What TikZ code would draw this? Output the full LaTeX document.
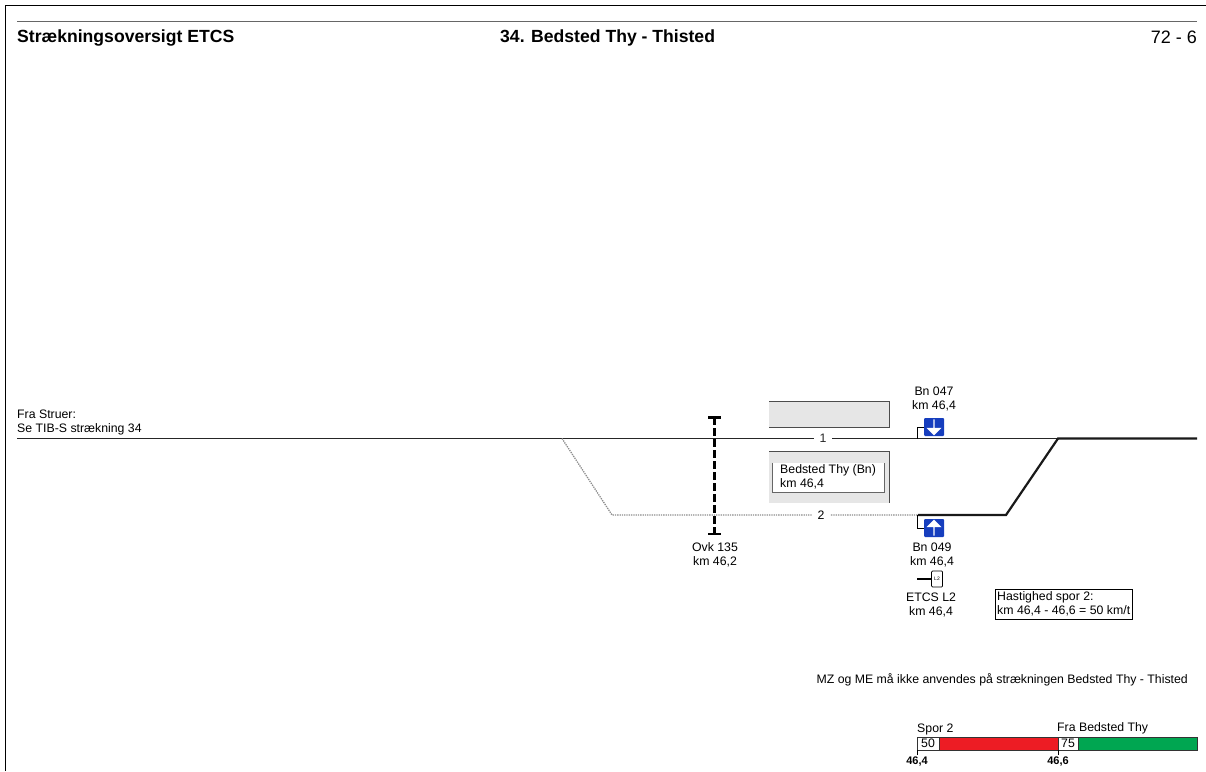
\documentclass[tikz,border=0pt]{standalone}
\usepackage{fontspec}
\setmainfont{Liberation Sans}
\usetikzlibrary{shapes.arrows, positioning, calc}
\definecolor{SignalBlue}{RGB}{22, 62, 190}
\definecolor{SpeedRed}{RGB}{237, 28, 36}
\definecolor{SpeedGreen}{RGB}{0, 166, 81}
\definecolor{PlatformGray}{RGB}{230, 230, 230}
\tikzset{
  smalltext/.style={font=\fontsize{12.3}{14}\selectfont, inner sep=0pt, align=center},
  headtext/.style={font=\fontsize{17.6}{18}\selectfont\bfseries, inner sep=0pt},
  signalbox/.style={fill=SignalBlue, rounded corners=1pt, minimum width=20pt, minimum height=18pt, inner sep=0pt},
  signalarrow/.style={single arrow, fill=white, minimum width=15pt, minimum height=16pt, inner sep=0pt, single arrow head extend=2pt},
  speedcell/.style={draw=black!80, line width=0.6pt, minimum height=13pt, inner sep=0pt, outer sep=0pt},
  platform/.style={fill=PlatformGray},
}
\begin{document}
\begin{tikzpicture}[x=1pt, y=-1pt]
  \useasboundingbox (0,0) rectangle (1206,771);
  % Frame and header
  \draw[line width=1.2pt] (5.5,771) -- (5.5,5.5) -- (1206,5.5);
  \draw[black!60, line width=1pt] (17,21) -- (1197,21);
  \node[headtext, anchor=west] (headL) at (17,37.5) {Strækningsoversigt ETCS};
  \node[headtext, anchor=west] (headM) at (500,37.5) {34. Bedsted Thy - Thisted};
  \node[anchor=east, inner sep=0pt, font=\fontsize{18}{18}\selectfont] (headR) at (1197,37.5) {72 - 6};

  % Platforms
  \fill[platform] (769,401) rectangle (889,427);
  \draw[black!70] (769,401) -- (889,401) -- (889,427) -- (769,427);
  \fill[platform] (769,451) rectangle (889,503);
  \draw[black!70] (769,451) -- (889,451) -- (889,503);
  \node[fill=white, minimum width=111pt, minimum height=29pt, inner sep=0pt] (stationbox) at (828.5,477.5) {};
  \draw[black!60, line width=0.8pt] (stationbox.north west) -- (stationbox.south west) -- (stationbox.south east) -- (stationbox.north east);
  \node[smalltext, align=left, anchor=west] (stationtxt) at (780,477) {Bedsted Thy (Bn)\\km 46,4};

  % Tracks
  \coordinate (startA) at (17,438.5);
  \coordinate (endA) at (1197,438.5);
  \coordinate (swL) at (562,438.5);
  \coordinate (swLb) at (612,515);
  \coordinate (thickA) at (918,515);
  \coordinate (thickB) at (1006,515);
  \coordinate (swR) at (1058,438.5);
  \draw[line width=0.9pt, black!85] (startA) -- node[pos=0.683, fill=white, inner sep=0pt, minimum width=18pt, font=\fontsize{12.3}{12}\selectfont] (trackA) {1} (endA);
  \draw[black!45, densely dotted, line width=1.3pt] (swL) -- (swLb) -- node[pos=0.683, fill=white, inner sep=0pt, minimum width=18pt, text=black, font=\fontsize{12.3}{12}\selectfont] (trackB) {2} (thickA);
  \draw[line width=2.2pt, black!90] (thickA) -- (thickB) -- (swR) -- (endA);
  \node[smalltext, align=left, anchor=west] (fromtxt) at (17,422) {Fra Struer:\\Se TIB-S strækning 34};

  % Crossing
  \coordinate (ovkTop) at (714.5,417);
  \coordinate (ovkBot) at (714.5,534);
  \draw[line width=3.4pt, dash pattern=on 8pt off 3pt] (ovkTop) -- (ovkBot);
  \draw[line width=3pt] ($(ovkTop)+(-6.5,0)$) -- ($(ovkTop)+(6.5,0)$);
  \draw[line width=2.4pt] ($(ovkBot)+(-6.5,0)$) -- ($(ovkBot)+(6.5,0)$);
  \node[smalltext] (ovktxt) at (715,555) {Ovk 135\\km 46,2};

  % Signals
  \node[signalbox] (bnA) at (934,427) {};
  \node[signalarrow, shape border rotate=270] (bnAarrow) at (934,427) {};
  \node[signalbox] (bnB) at (934,528) {};
  \node[signalarrow, shape border rotate=90] (bnBarrow) at (934,528) {};
  \coordinate (bnAfoot) at (917.5,438.5);
  \coordinate (bnBfoot) at (917.5,515);
  \draw[line width=0.9pt] (bnAfoot) |- (bnA);
  \draw[line width=0.9pt] (bnBfoot) |- (bnB);
  \node[smalltext] (bnAtxt) at (934,398.5) {Bn 047\\km 46,4};
  \node[smalltext] (bnBtxt) at (932,555) {Bn 049\\km 46,4};

  % ETCS marker
  \node[draw, line width=0.7pt, rounded corners=1pt, minimum width=11pt, minimum height=16pt, inner sep=0pt, font=\fontsize{5}{5}\selectfont] (etcs) at (937,579) {L2};
  \coordinate (etcsfoot) at (917,579);
  \draw[line width=1.1pt] (etcsfoot) -- (etcs);
  \node[smalltext] (etcstxt) at (931,605) {ETCS L2\\km 46,4};

  % Speed note
  \node[draw, line width=0.8pt, minimum width=137pt, minimum height=30pt, inner sep=0pt] (speedbox) at (1063.5,604) {};
  \node[smalltext, align=left, anchor=west] (speedtxt) at (997,604) {Hastighed spor 2:\\km 46,4 - 46,6 = 50 km/t};
  \node[smalltext, anchor=east] (notetxt) at (1188,680) {MZ og ME må ikke anvendes på strækningen Bedsted Thy - Thisted};

  % Speed profile
  \node[speedcell, fill=white, minimum width=22pt] (cellA) at (928,743.5) {\fontsize{12.3}{12}\selectfont 50};
  \node[speedcell, fill=SpeedRed, minimum width=119pt, right=0pt of cellA] (barA) {};
  \node[speedcell, fill=white, minimum width=20pt, right=0pt of barA] (cellB) {\fontsize{12.3}{12}\selectfont 75};
  \node[speedcell, fill=SpeedGreen, minimum width=119pt, right=0pt of cellB] (barB) {};
  \node[smalltext, anchor=south west] (sporB) at (917,735) {Spor 2};
  \node[smalltext, anchor=south west] (fratxt) at (1057,734.5) {Fra Bedsted Thy};
  \coordinate (tickA) at (917,755);
  \coordinate (tickB) at (1058,755);
  \draw[line width=0.6pt] (cellA.south west) -- (tickA);
  \draw[line width=0.6pt] (cellB.south west) -- (tickB);
  \node[smalltext, font=\fontsize{11}{12}\selectfont\bfseries] (kmA) at (917,761) {46,4};
  \node[smalltext, font=\fontsize{11}{12}\selectfont\bfseries] (kmB) at (1058,761) {46,6};
\end{tikzpicture}
\end{document}
